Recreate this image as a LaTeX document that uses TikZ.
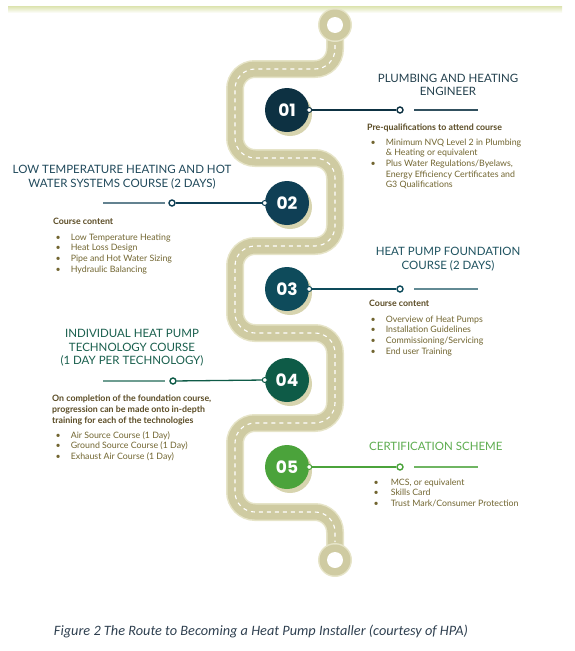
\documentclass[tikz,border=0pt]{standalone}
\usepackage{fontspec}
\setmainfont{Lato}
\newfontfamily\numfont{Poppins}
\newfontfamily\capfont{Carlito}
\usetikzlibrary{shadows}

\definecolor{roadbeige}{HTML}{CFCBA2}
\definecolor{roadedge}{HTML}{E6E4C8}
\definecolor{shadowbeige}{HTML}{D3CFA6}
\definecolor{bandgreen}{HTML}{DCE3AE}
\definecolor{stepone}{HTML}{0D3142}
\definecolor{steptwo}{HTML}{0F3F55}
\definecolor{stepthree}{HTML}{0E4B5B}
\definecolor{stepfour}{HTML}{0E5B47}
\definecolor{stepfive}{HTML}{4BA33B}
\definecolor{headbrown}{HTML}{5A4B24}
\definecolor{itemolive}{HTML}{716530}
\definecolor{captiongray}{HTML}{2F4050}

\tikzset{
  step-circle/.style={circle, fill=#1, minimum size=44pt, inner sep=0pt, text=white,
    font=\numfont\bfseries\fontsize{17}{17}\selectfont,
    drop shadow={shadow xshift=3pt, shadow yshift=-4pt, fill=shadowbeige, opacity=0.9}},
  edge-dot/.style={circle, fill=white, draw=#1, line width=1pt, minimum size=5pt, inner sep=0pt},
  end-dot/.style={circle, fill=white, draw=#1, line width=1.4pt, minimum size=6pt, inner sep=0pt},
  link/.style={draw=#1, line width=1.3pt},
  step-title/.style={text=#1, align=center, inner sep=0pt, font=\fontsize{11.5}{13.5}\selectfont},
  subhead/.style={text=headbrown, anchor=base west, inner sep=0pt, font=\bfseries\fontsize{8.8}{11}\selectfont},
  items/.style={text=itemolive, anchor=base west, inner sep=0pt, font=\fontsize{8.8}{10.7}\selectfont},
}

\begin{document}
\begin{tikzpicture}[x=1pt, y=-1pt]
    \useasboundingbox (0,0) rectangle (575,651);

    % Top band
    \shade[top color=bandgreen, bottom color=white] (8,6) rectangle (562,13);

    % The road
    \draw[rounded corners=20pt, draw=roadbeige, line width=15pt, preaction={draw=roadedge, line width=18pt}]
        (335,25) -- (335,69) -- (235,69) -- (235,158) -- (335,158) -- (335,246) -- (235,246)
        -- (235,333) -- (335,333) -- (335,423) -- (235,423) -- (235,512) -- (335,512) -- (335,560);
    \fill[roadedge] (335,25) circle (17);
    \fill[roadbeige] (335,25) circle (15.5);
    \fill[white] (335,25) circle (8);
    \fill[roadedge] (335,560) circle (17);
    \fill[roadbeige] (335,560) circle (15.5);
    \fill[white] (335,560) circle (8);
    \draw[rounded corners=20pt, white, line width=1.1pt, dash pattern=on 4pt off 4pt]
        (335,45) -- (335,69) -- (235,69) -- (235,158) -- (335,158) -- (335,246) -- (235,246)
        -- (235,333) -- (335,333) -- (335,423) -- (235,423) -- (235,512) -- (335,512) -- (335,542);

    % Step circles
    \node[step-circle=stepone] (c1) at (287,110) {01};
    \node[step-circle=steptwo] (c2) at (287,203) {02};
    \node[step-circle=stepthree] (c3) at (287,289) {03};
    \node[step-circle=stepfour] (c4) at (287,380) {04};
    \node[step-circle=stepfive] (c5) at (287,467) {05};

    % Step 01
    \node[end-dot=stepone] (d1) at (400,110) {};
    \draw[link=stepone] (c1.east) -- (d1);
    \node[edge-dot=stepone] (e1) at (c1.east) {};
    \coordinate (r1a) at (414,110);
    \coordinate (r1b) at (478,110);
    \draw[link=stepone!85, line width=1.1pt] (r1a) -- (r1b);
    \node[step-title=stepone!80!gray] (t1) at (448,85) {PLUMBING AND HEATING\\ENGINEER};
    \node[subhead] (h1) at (367,130) {Pre-qualifications to attend course};
    \node[items] (b1) at (370.5,145) {\begin{tabular}[t]{@{}l@{\hspace{10pt}}l@{}}
        \textbullet & Minimum NVQ Level 2 in Plumbing\\
                    & \& Heating or equivalent\\
        \textbullet & Plus Water Regulations/Byelaws,\\
                    & Energy Efficiency Certificates and\\
                    & G3 Qualifications\end{tabular}};

    % Step 02
    \node[end-dot=steptwo] (d2) at (172,203) {};
    \draw[link=steptwo] (c2.west) -- (d2);
    \node[edge-dot=steptwo] (e2) at (c2.west) {};
    \coordinate (r2a) at (103,203);
    \coordinate (r2b) at (165,203);
    \draw[link=steptwo!65, line width=1.1pt] (r2a) -- (r2b);
    \node[step-title=steptwo!85!gray] (t2) at (122,177) {LOW TEMPERATURE HEATING AND HOT\\WATER SYSTEMS COURSE (2 DAYS)};
    \node[subhead] (h2) at (53,224) {Course content};
    \node[items] (b2) at (55.5,240) {\begin{tabular}[t]{@{}l@{\hspace{10pt}}l@{}}
        \textbullet & Low Temperature Heating\\
        \textbullet & Heat Loss Design\\
        \textbullet & Pipe and Hot Water Sizing\\
        \textbullet & Hydraulic Balancing\end{tabular}};

    % Step 03
    \node[end-dot=stepthree] (d3) at (400,289) {};
    \draw[link=stepthree] (c3.east) -- (d3);
    \node[edge-dot=stepthree] (e3) at (c3.east) {};
    \coordinate (r3a) at (414,289);
    \coordinate (r3b) at (478,289);
    \draw[link=stepthree!65, line width=1.1pt] (r3a) -- (r3b);
    \node[step-title=stepthree!85!gray] (t3) at (448,259) {HEAT PUMP FOUNDATION\\COURSE (2 DAYS)};
    \node[subhead] (h3) at (369,306) {Course content};
    \node[items] (b3) at (370.5,322) {\begin{tabular}[t]{@{}l@{\hspace{10pt}}l@{}}
        \textbullet & Overview of Heat Pumps\\
        \textbullet & Installation Guidelines\\
        \textbullet & Commissioning/Servicing\\
        \textbullet & End user Training\end{tabular}};

    % Step 04
    \node[end-dot=stepfour] (d4) at (173,381) {};
    \draw[link=stepfour] (c4.west) -- (d4);
    \node[edge-dot=stepfour] (e4) at (c4.west) {};
    \coordinate (r4a) at (103,381);
    \coordinate (r4b) at (165,381);
    \draw[link=stepfour!60, line width=1.1pt] (r4a) -- (r4b);
    \node[step-title=stepfour!90!gray] (t4) at (132,348) {INDIVIDUAL HEAT PUMP\\TECHNOLOGY COURSE\\(1 DAY PER TECHNOLOGY)};
    \node[subhead] (h4) at (52,401) {\begin{tabular}[t]{@{}l@{}}
        On completion of the foundation course,\\
        progression can be made onto in-depth\\
        training for each of the technologies\end{tabular}};
    \node[items] (b4) at (55.5,438) {\begin{tabular}[t]{@{}l@{\hspace{10pt}}l@{}}
        \textbullet & Air Source Course (1 Day)\\
        \textbullet & Ground Source Course (1 Day)\\
        \textbullet & Exhaust Air Course (1 Day)\end{tabular}};

    % Step 05
    \node[end-dot=stepfive] (d5) at (400,467) {};
    \draw[link=stepfive] (c5.east) -- (d5);
    \node[edge-dot=stepfive] (e5) at (c5.east) {};
    \coordinate (r5a) at (414,467);
    \coordinate (r5b) at (478,467);
    \draw[link=stepfive!80, line width=1.1pt] (r5a) -- (r5b);
    \node[step-title=stepfive!90!white, anchor=west] (t5) at (369,446) {CERTIFICATION SCHEME};
    \node[items] (b5) at (373.5,485) {\begin{tabular}[t]{@{}l@{\hspace{12pt}}l@{}}
        \textbullet & MCS, or equivalent\\
        \textbullet & Skills Card\\
        \textbullet & Trust Mark/Consumer Protection\end{tabular}};

    % Caption
    \node[text=captiongray, font=\capfont\itshape\fontsize{14.3}{16}\selectfont] (caption) at (261,631)
        {Figure 2 The Route to Becoming a Heat Pump Installer (courtesy of HPA)};
\end{tikzpicture}
\end{document}
